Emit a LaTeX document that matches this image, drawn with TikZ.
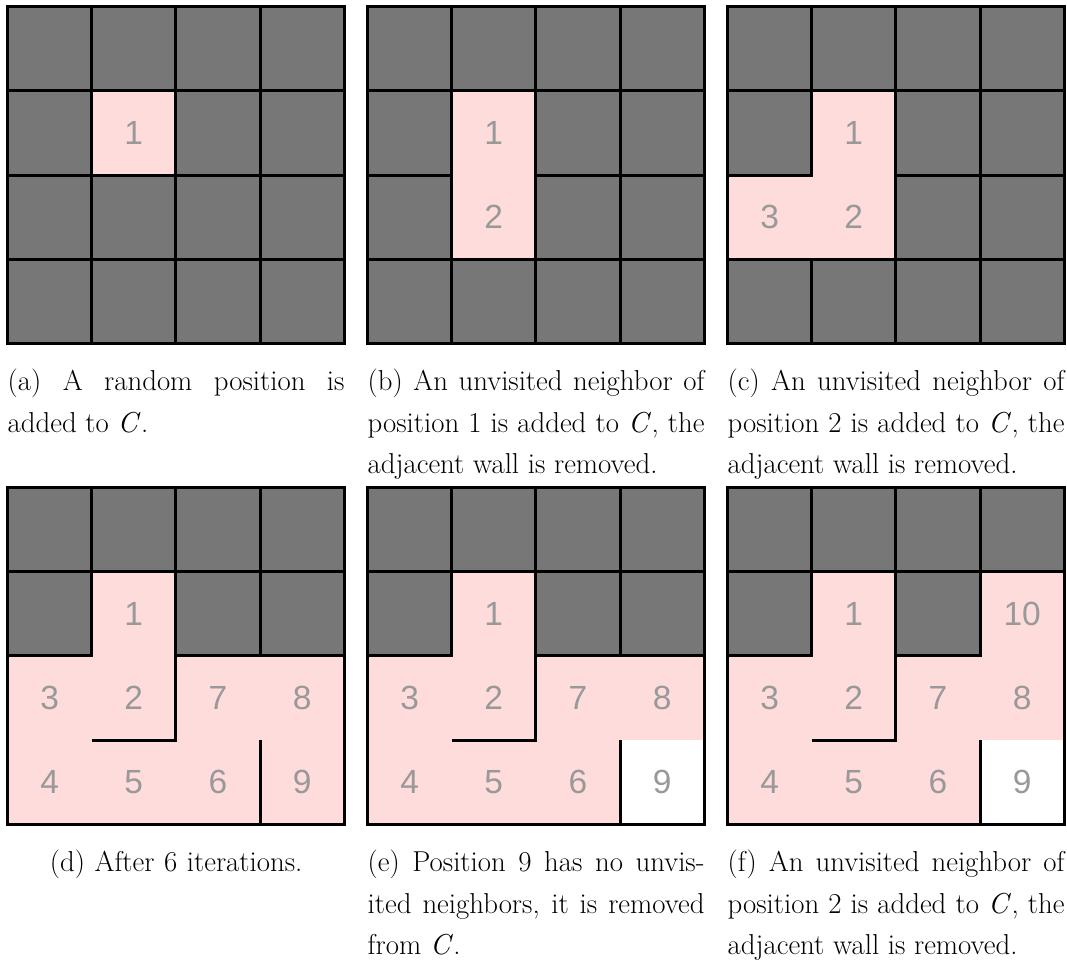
\documentclass[tikz,border=0pt]{standalone}
\usepackage{fontspec}
\newfontfamily\numfont{Liberation Sans}
\definecolor{cellgray}{HTML}{777777}
\definecolor{cellpink}{HTML}{FFDCDC}
\definecolor{numgray}{HTML}{999999}
\newcommand\setC{\textit{C}\kern0.5pt}
\tikzset{
  graycell/.style={fill=cellgray, draw=black, line width=3pt},
  pinkcell/.style={fill=cellpink},
  whitecell/.style={fill=white},
  wall/.style={draw=black, line width=3pt},
  gridframe/.style={draw=black, line width=3.5pt},
  num/.style={font=\numfont\fontsize{33.5}{33.5}\selectfont, text=numgray, inner sep=0pt},
  captext/.style={font=\fontsize{28.8}{41.3}\selectfont, text width=336.8pt, inner sep=0pt, anchor=base west, align=justify},
  panel/.style={x=84.2pt, y=-84.2pt},
}
\begin{document}
\begin{tikzpicture}
\useasboundingbox (0pt,0pt) rectangle (1067pt,-961pt);

% ---------- (a)
\begin{scope}[shift={(7.5pt,-6.7pt)}, panel]
  \fill[pinkcell] (1,1) rectangle (2,2);
  \foreach \i/\j in {0/0,1/0,2/0,3/0,0/1,2/1,3/1,0/2,1/2,2/2,3/2,0/3,1/3,2/3,3/3}
    \path[graycell] (\i,\j) rectangle ++(1,1);
  \draw[gridframe] (0,0) rectangle (4,4);
  \node[num] (a1) at (1.5,1.5) {1};
\end{scope}
\node[captext] (capa) at (7.5pt,-390.7pt) {(a) A random position is\linebreak added to \setC.};

% ---------- (b)
\begin{scope}[shift={(367.5pt,-6.7pt)}, panel]
  \foreach \i/\j in {1/1,1/2}
    \fill[pinkcell] (\i,\j) rectangle ++(1,1);
  \foreach \i/\j in {0/0,1/0,2/0,3/0,0/1,2/1,3/1,0/2,2/2,3/2,0/3,1/3,2/3,3/3}
    \path[graycell] (\i,\j) rectangle ++(1,1);
  \draw[gridframe] (0,0) rectangle (4,4);
  \foreach \n/\i/\j in {1/1/1,2/1/2}
    \node[num] (b\n) at (\i+0.5,\j+0.5) {\n};
\end{scope}
\node[captext] (capb) at (367.5pt,-390.7pt) {(b) An unvisited neighbor of\linebreak position 1 is added to \setC, the\linebreak adjacent wall is removed.};

% ---------- (c)
\begin{scope}[shift={(727.5pt,-6.7pt)}, panel]
  \foreach \i/\j in {1/1,1/2,0/2}
    \fill[pinkcell] (\i,\j) rectangle ++(1,1);
  \foreach \i/\j in {0/0,1/0,2/0,3/0,0/1,2/1,3/1,2/2,3/2,0/3,1/3,2/3,3/3}
    \path[graycell] (\i,\j) rectangle ++(1,1);
  \draw[gridframe] (0,0) rectangle (4,4);
  \foreach \n/\i/\j in {1/1/1,2/1/2,3/0/2}
    \node[num] (c\n) at (\i+0.5,\j+0.5) {\n};
\end{scope}
\node[captext] (capc) at (727.5pt,-390.7pt) {(c) An unvisited neighbor of\linebreak position 2 is added to \setC, the\linebreak adjacent wall is removed.};

% ---------- (d)
\begin{scope}[shift={(7.5pt,-487.5pt)}, panel]
  \foreach \i/\j in {1/1,1/2,0/2,0/3,1/3,2/3,2/2,3/2,3/3}
    \fill[pinkcell] (\i,\j) rectangle ++(1,1);
  \foreach \i/\j in {0/0,1/0,2/0,3/0,0/1,2/1,3/1}
    \path[graycell] (\i,\j) rectangle ++(1,1);
  \draw[wall] (1,3) -- (2,3) -- (2,2);
  \draw[wall] (3,3) -- (3,4);
  \draw[gridframe] (0,0) rectangle (4,4);
  \foreach \n/\i/\j in {1/1/1,2/1/2,3/0/2,4/0/3,5/1/3,6/2/3,7/2/2,8/3/2,9/3/3}
    \node[num] (d\n) at (\i+0.5,\j+0.5) {\n};
\end{scope}
\node[captext, align=center] (capd) at (7.5pt,-871.7pt) {(d) After 6 iterations.};

% ---------- (e)
\begin{scope}[shift={(367.5pt,-487.5pt)}, panel]
  \foreach \i/\j in {1/1,1/2,0/2,0/3,1/3,2/3,2/2,3/2}
    \fill[pinkcell] (\i,\j) rectangle ++(1,1);
  \fill[whitecell] (3,3) rectangle (4,4);
  \foreach \i/\j in {0/0,1/0,2/0,3/0,0/1,2/1,3/1}
    \path[graycell] (\i,\j) rectangle ++(1,1);
  \draw[wall] (1,3) -- (2,3) -- (2,2);
  \draw[wall] (3,3) -- (3,4);
  \draw[gridframe] (0,0) rectangle (4,4);
  \foreach \n/\i/\j in {1/1/1,2/1/2,3/0/2,4/0/3,5/1/3,6/2/3,7/2/2,8/3/2,9/3/3}
    \node[num] (e\n) at (\i+0.5,\j+0.5) {\n};
\end{scope}
\node[captext] (cape) at (367.5pt,-871.7pt) {(e) Position 9 has no unvis-\linebreak ited neighbors, it is removed\linebreak from \setC.};

% ---------- (f)
\begin{scope}[shift={(727.5pt,-487.5pt)}, panel]
  \foreach \i/\j in {1/1,3/1,1/2,0/2,0/3,1/3,2/3,2/2,3/2}
    \fill[pinkcell] (\i,\j) rectangle ++(1,1);
  \fill[whitecell] (3,3) rectangle (4,4);
  \foreach \i/\j in {0/0,1/0,2/0,3/0,0/1,2/1}
    \path[graycell] (\i,\j) rectangle ++(1,1);
  \draw[wall] (1,3) -- (2,3) -- (2,2);
  \draw[wall] (3,3) -- (3,4);
  \draw[gridframe] (0,0) rectangle (4,4);
  \foreach \n/\i/\j in {1/1/1,10/3/1,2/1/2,3/0/2,4/0/3,5/1/3,6/2/3,7/2/2,8/3/2,9/3/3}
    \node[num] (f\n) at (\i+0.5,\j+0.5) {\n};
\end{scope}
\node[captext] (capf) at (727.5pt,-871.7pt) {(f) An unvisited neighbor of\linebreak position 2 is added to \setC, the\linebreak adjacent wall is removed.};
\end{tikzpicture}
\end{document}
